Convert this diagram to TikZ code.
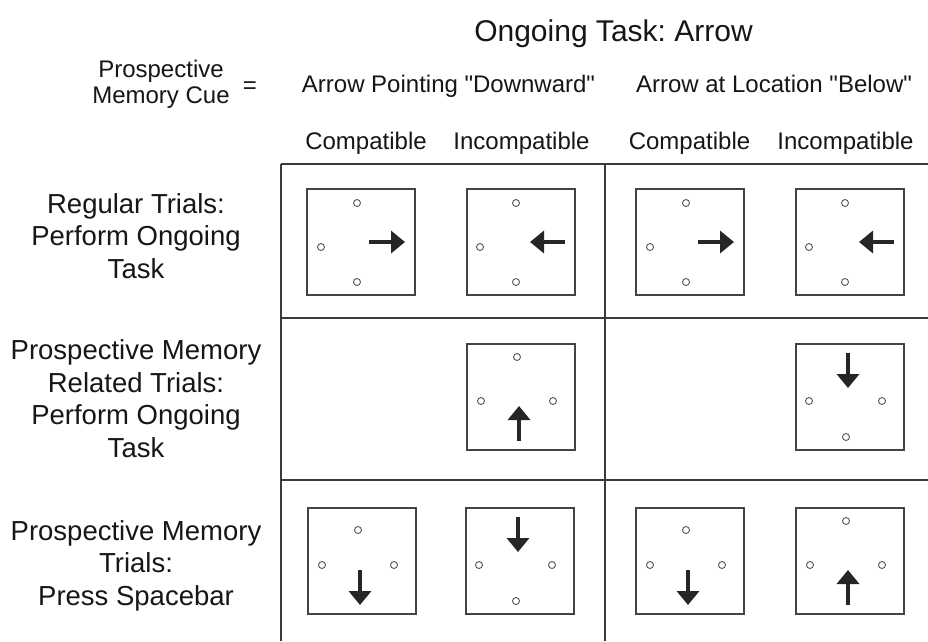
\documentclass[tikz,border=0pt]{standalone}
\usepackage{fontspec}
\setmainfont{Liberation Sans}[Ligatures=TeXOff]
\usetikzlibrary{arrows.meta}
\definecolor{ink}{HTML}{161616}
\definecolor{gridc}{HTML}{3A3A3A}
\definecolor{boxc}{HTML}{444444}
\definecolor{dotc}{HTML}{555555}
\definecolor{arrc}{HTML}{262626}
\frenchspacing
\tikzset{
  gridline/.style={draw=gridc, line width=1.6pt},
  stimbox/.style={draw=boxc, line width=1.4pt, minimum width=108pt, minimum height=106pt, inner sep=0pt, outer sep=0pt, anchor=north west},
  cuedot/.style={draw=dotc, line width=0.9pt, fill=white},
  stimarrow/.style={draw=arrc, line width=4pt, -{Triangle[width=22pt,length=14pt]}},
  titletext/.style={text=ink, font=\fontsize{30}{36}\selectfont, anchor=base, inner sep=0pt},
  headtext/.style={text=ink, font=\fontsize{24}{26}\selectfont, anchor=base, inner sep=0pt, align=center},
  rowtext/.style={text=ink, font=\fontsize{27.5}{32.5}\selectfont, anchor=base, inner sep=0pt, align=center},
  pics/stimR/.style={code={
    \node[stimbox] (-box) at (0,0) {};
    \draw[cuedot] (50,14) circle (3.5pt);
    \draw[cuedot] (14,58) circle (3.5pt);
    \draw[cuedot] (50,93) circle (3.5pt);
    \draw[stimarrow] (62,53) -- (98,53);
  }},
  pics/stimL/.style={code={
    \node[stimbox] (-box) at (0,0) {};
    \draw[cuedot] (49,14) circle (3.5pt);
    \draw[cuedot] (13,58) circle (3.5pt);
    \draw[cuedot] (49,93) circle (3.5pt);
    \draw[stimarrow] (98,53) -- (63,53);
  }},
  pics/stimUp/.style={code={
    \node[stimbox] (-box) at (0,0) {};
    \draw[cuedot] (50,13) circle (3.5pt);
    \draw[cuedot] (14,57) circle (3.5pt);
    \draw[cuedot] (86,57) circle (3.5pt);
    \draw[stimarrow] (52,97) -- (52,62);
  }},
  pics/stimDownTop/.style={code={
    \node[stimbox] (-box) at (0,0) {};
    \draw[cuedot] (13,57) circle (3.5pt);
    \draw[cuedot] (86,57) circle (3.5pt);
    \draw[cuedot] (50,93) circle (3.5pt);
    \draw[stimarrow] (52,9) -- (52,44);
  }},
  pics/stimDownBot/.style={code={
    \node[stimbox] (-box) at (0,0) {};
    \draw[cuedot] (50,22) circle (3.5pt);
    \draw[cuedot] (14,57) circle (3.5pt);
    \draw[cuedot] (86,57) circle (3.5pt);
    \draw[stimarrow] (52,62) -- (52,97);
  }},
}
\begin{document}
\begin{tikzpicture}[x=1pt, y=-1pt]
\useasboundingbox[fill=white] (0,0) rectangle (928,641);
% grid
\coordinate (gtl) at (281,164);
\coordinate (gtr) at (928,164);
\coordinate (gbl) at (281,641);
\coordinate (gmt) at (605,164);
\coordinate (gmb) at (605,641);
\coordinate (h1l) at (281,318);
\coordinate (h1r) at (928,318);
\coordinate (h2l) at (281,480);
\coordinate (h2r) at (928,480);
\draw[gridline] (gtl) -- (gtr);
\draw[gridline] (gtl) -- (gbl);
\draw[gridline] (gmt) -- (gmb);
\draw[gridline] (h1l) -- (h1r);
\draw[gridline] (h2l) -- (h2r);
% header texts
\node[titletext] (title) at (613.5,41) {Ongoing Task: Arrow};
\node[headtext] (pmc) at (161,103) {Prospective\\Memory Cue};
\node[headtext] (eq) at (250,93) {=};
\node[headtext] (cueA) at (448.5,92) {Arrow Pointing "Downward"};
\node[headtext] (cueB) at (774,92) {Arrow at Location "Below"};
\node[headtext] (c1) at (366,149) {Compatible};
\node[headtext] (c2) at (521.5,149) {Incompatible};
\node[headtext] (c3) at (689.5,149) {Compatible};
\node[headtext] (c4) at (845.5,149) {Incompatible};
% row labels (anchored at the baseline of the last line)
\node[rowtext] (r1) at (136,278) {Regular Trials:\\Perform Ongoing\\Task};
\node[rowtext] (r2) at (136,457) {Prospective Memory\\Related Trials:\\Perform Ongoing\\Task};
\node[rowtext] (r3) at (136,605) {Prospective Memory\\Trials:\\Press Spacebar};
% stimuli
\pic (s11) at (307,189) {stimR};
\pic (s12) at (467,189) {stimL};
\pic (s13) at (636,189) {stimR};
\pic (s14) at (796,189) {stimL};
\pic (s22) at (467,344) {stimUp};
\pic (s24) at (796,344) {stimDownTop};
\pic (s31) at (308,508) {stimDownBot};
\pic (s32) at (466,508) {stimDownTop};
\pic (s33) at (636,508) {stimDownBot};
\pic (s34) at (796,508) {stimUp};
\end{tikzpicture}
\end{document}
